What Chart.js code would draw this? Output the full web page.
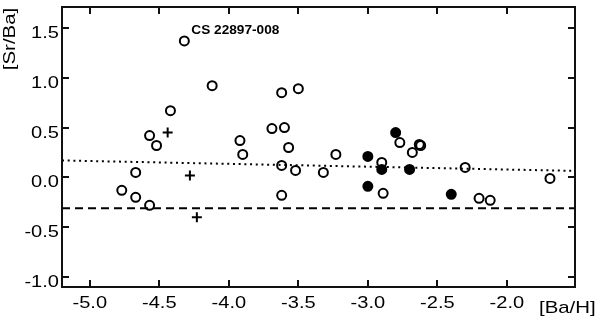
<!DOCTYPE html>
<html>
<head>
<meta charset="utf-8">
<script src="https://cdn.jsdelivr.net/npm/chart.js@4/dist/chart.umd.min.js"></script>
<style>
  html, body { margin: 0; padding: 0; background: #fff; }
  #wrap { width: 600px; height: 321px; }
</style>
</head>
<body>
<div id="wrap"><canvas id="srba"></canvas></div>
<script>
// Données : étoiles (cercles ouverts), étoiles riches (cercles pleins), croix
const openBaH = [-4.32, -4.12, -4.42, -4.57, -4.52, -4.77, -4.67, -4.67, -4.57, -3.92, -3.90,
                 -3.62, -3.50, -3.69, -3.60, -3.57, -3.62, -3.52, -3.62, -3.32, -3.23,
                 -2.90, -2.89, -2.77, -2.68, -2.63, -2.62, -2.30, -2.20, -2.12, -1.69];
const openSrBa = [1.37, 0.92, 0.67, 0.42, 0.32, -0.13, 0.05, -0.20, -0.28, 0.37, 0.23,
                  0.85, 0.89, 0.49, 0.50, 0.30, 0.12, 0.07, -0.18, 0.05, 0.23,
                  0.15, -0.16, 0.35, 0.25, 0.33, 0.32, 0.10, -0.21, -0.23, -0.01];
const filledBaH = [-3.00, -3.00, -2.90, -2.80, -2.70, -2.40];
const filledSrBa = [0.21, -0.09, 0.08, 0.45, 0.08, -0.17];
const crossBaH = [-4.44, -4.28, -4.23];
const crossSrBa = [0.45, 0.02, -0.40];

// droite d'ajustement (pointillés) et niveau solaire r-process (tirets)
const fitBaH = [-5.2, -1.51];
const fitSrBa = [0.17, 0.065];
const dashSrBa = -0.31;

const xTicks = [-5.0, -4.5, -4.0, -3.5, -3.0, -2.5, -2.0];
const yTicks = [-1.0, -0.5, 0.0, 0.5, 1.0, 1.5];

const labelStar = "CS 22897-008";
const labelStarIndex = 0;

function pts(xs, ys) {
  return xs.map((x, i) => ({ x: x, y: ys[i] }));
}

const FONT = "'Liberation Sans', Arial, Helvetica, sans-serif";

function stretchText(ctx, text, x, y, align, sx) {
  ctx.save();
  ctx.translate(x, y);
  ctx.scale(sx, 1);
  ctx.textAlign = align;
  ctx.fillText(text, 0, 0);
  ctx.restore();
}

// cadre, graduations vers l'intérieur et textes
const framePlugin = {
  id: "frame",
  afterDatasetsDraw(chart) {
    const ctx = chart.ctx;
    const a = chart.chartArea;
    const xs = chart.scales.x, ys = chart.scales.y;
    const tl = 7;
    ctx.save();
    ctx.strokeStyle = "#111";
    ctx.fillStyle = "#000";
    ctx.lineWidth = 2;
    ctx.strokeRect(a.left, a.top, a.right - a.left, a.bottom - a.top);
    ctx.beginPath();
    xTicks.forEach(v => {
      const px = Math.round(xs.getPixelForValue(v));
      ctx.moveTo(px, a.bottom); ctx.lineTo(px, a.bottom - tl);
      ctx.moveTo(px, a.top); ctx.lineTo(px, a.top + tl);
    });
    yTicks.forEach(v => {
      const py = Math.round(ys.getPixelForValue(v));
      ctx.moveTo(a.left, py); ctx.lineTo(a.left + tl, py);
      ctx.moveTo(a.right, py); ctx.lineTo(a.right - tl, py);
    });
    ctx.stroke();

    ctx.font = "17px " + FONT;
    ctx.textBaseline = "alphabetic";
    xTicks.forEach(v => {
      stretchText(ctx, v.toFixed(1), xs.getPixelForValue(v), a.bottom + 21, "center", 1.18);
    });
    yTicks.forEach(v => {
      stretchText(ctx, v.toFixed(1), a.left - 3, ys.getPixelForValue(v) + 10, "right", 1.18);
    });

    // titres des axes
    stretchText(ctx, "[Ba/H]", 539, 313, "left", 1.2);
    ctx.save();
    ctx.translate(15, 39);
    ctx.rotate(-Math.PI / 2);
    ctx.scale(1.2, 1);
    ctx.textAlign = "center";
    ctx.fillText("[Sr/Ba]", 0, 0);
    ctx.restore();

    // nom de l'étoile
    ctx.font = "bold 13px " + FONT;
    ctx.textAlign = "left";
    const sx = xs.getPixelForValue(openBaH[labelStarIndex]);
    const sy = ys.getPixelForValue(openSrBa[labelStarIndex]);
    stretchText(ctx, labelStar, sx + 7, sy - 7, "left", 1.05);
    ctx.restore();
  }
};

const config = {
  type: "scatter",
  data: {
    datasets: [
      {
        label: "filled",
        data: pts(filledBaH, filledSrBa),
        pointStyle: "circle",
        pointRadius: 4.5,
        pointBorderWidth: 2,
        borderColor: "#000",
        backgroundColor: "#000",
        order: 1
      },
      {
        label: "open",
        data: pts(openBaH, openSrBa),
        pointStyle: "circle",
        pointRadius: 4.5,
        pointBorderWidth: 2,
        borderColor: "#000",
        backgroundColor: "rgba(0,0,0,0)",
        order: 2
      },
      {
        label: "cross",
        data: pts(crossBaH, crossSrBa),
        pointStyle: "cross",
        pointRadius: 5,
        pointBorderWidth: 2,
        borderColor: "#000",
        order: 3
      },
      {
        label: "fit",
        data: pts(fitBaH, fitSrBa),
        showLine: true,
        pointRadius: 0,
        borderColor: "#000",
        borderWidth: 2,
        borderDash: [2, 3.7],
        order: 4
      },
      {
        label: "solar",
        data: [{ x: -5.2, y: dashSrBa }, { x: -1.51, y: dashSrBa }],
        showLine: true,
        pointRadius: 0,
        borderColor: "#000",
        borderWidth: 2,
        borderDash: [8, 5],
        order: 5
      }
    ]
  },
  options: {
    responsive: false,
    animation: false,
    layout: { padding: { top: 5, right: 25, left: 0, bottom: 0 } },
    plugins: {
      legend: { display: false },
      tooltip: { enabled: false }
    },
    scales: {
      x: {
        type: "linear",
        min: -5.2,
        max: -1.51,
        ticks: { display: false },
        grid: { display: false },
        border: { display: false },
        afterFit(scale) { scale.height = 34; }
      },
      y: {
        type: "linear",
        min: -1.1,
        max: 1.71,
        ticks: { display: false },
        grid: { display: false },
        border: { display: false },
        afterFit(scale) { scale.width = 62; }
      }
    }
  },
  plugins: [framePlugin]
};

const cv = document.getElementById("srba");
cv.width = 600;
cv.height = 321;
new Chart(cv, config);
</script>
</body>
</html>
